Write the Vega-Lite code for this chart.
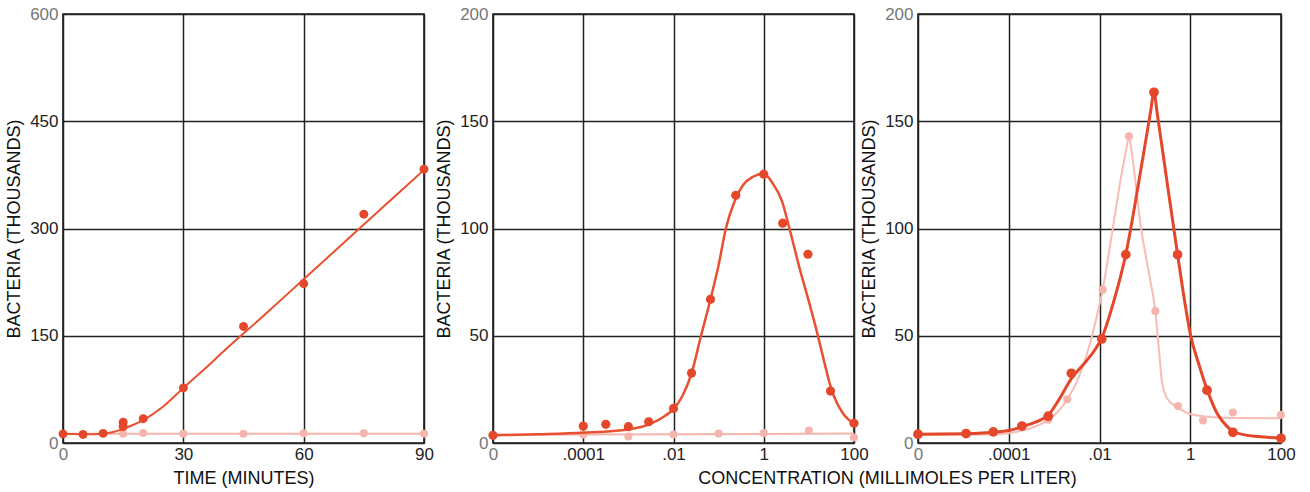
{
  "$schema": "https://vega.github.io/schema/vega-lite/v6.json",
  "padding": {"left": 4, "top": 4, "right": 4, "bottom": 4},
  "background": "white",
  "config": {
    "font": "Liberation Sans",
    "view": {"stroke": "#1e1e1e", "strokeWidth": 1.6},
    "axis": {
      "domain": false, "ticks": false, "grid": true,
      "gridColor": "#222222", "gridWidth": 1.5, "gridOpacity": 1,
      "labelFont": "Liberation Sans", "labelFontSize": 17,
      "labelFlush": false, "labelOverlap": false,
      "titleFont": "Liberation Sans", "titleFontSize": 18, "titleFontWeight": "normal", "titleColor": "#111111"
    }
  },
  "datasets": {
    "time_course": [
      {"minutes": 0, "bacteria": 12.8, "series": "main", "kind": "point"},
      {"minutes": 5, "bacteria": 12, "series": "main", "kind": "point"},
      {"minutes": 10, "bacteria": 13.5, "series": "main", "kind": "point"},
      {"minutes": 15, "bacteria": 29, "series": "main", "kind": "point"},
      {"minutes": 15, "bacteria": 23, "series": "main", "kind": "point"},
      {"minutes": 20, "bacteria": 34, "series": "main", "kind": "point"},
      {"minutes": 30, "bacteria": 77, "series": "main", "kind": "point"},
      {"minutes": 45, "bacteria": 163, "series": "main", "kind": "point"},
      {"minutes": 60, "bacteria": 223, "series": "main", "kind": "point"},
      {"minutes": 75, "bacteria": 320, "series": "main", "kind": "point"},
      {"minutes": 90, "bacteria": 383, "series": "main", "kind": "point"},
      {"minutes": 15, "bacteria": 13, "series": "control", "kind": "point"},
      {"minutes": 20, "bacteria": 14, "series": "control", "kind": "point"},
      {"minutes": 30, "bacteria": 13, "series": "control", "kind": "point"},
      {"minutes": 45, "bacteria": 13, "series": "control", "kind": "point"},
      {"minutes": 60, "bacteria": 13.5, "series": "control", "kind": "point"},
      {"minutes": 75, "bacteria": 13.5, "series": "control", "kind": "point"},
      {"minutes": 90, "bacteria": 13, "series": "control", "kind": "point"},
      {"minutes": 0, "bacteria": 12.8, "series": "main", "kind": "curve"},
      {"minutes": 5, "bacteria": 12.3, "series": "main", "kind": "curve"},
      {"minutes": 10, "bacteria": 13, "series": "main", "kind": "curve"},
      {"minutes": 13, "bacteria": 16, "series": "main", "kind": "curve"},
      {"minutes": 16, "bacteria": 22, "series": "main", "kind": "curve"},
      {"minutes": 20, "bacteria": 32, "series": "main", "kind": "curve"},
      {"minutes": 25, "bacteria": 51, "series": "main", "kind": "curve"},
      {"minutes": 30, "bacteria": 77, "series": "main", "kind": "curve"},
      {"minutes": 35, "bacteria": 102, "series": "main", "kind": "curve"},
      {"minutes": 40, "bacteria": 128, "series": "main", "kind": "curve"},
      {"minutes": 50, "bacteria": 178, "series": "main", "kind": "curve"},
      {"minutes": 60, "bacteria": 229, "series": "main", "kind": "curve"},
      {"minutes": 70, "bacteria": 280, "series": "main", "kind": "curve"},
      {"minutes": 80, "bacteria": 331, "series": "main", "kind": "curve"},
      {"minutes": 90, "bacteria": 382, "series": "main", "kind": "curve"},
      {"minutes": 0, "bacteria": 12.8, "series": "control", "kind": "curve"},
      {"minutes": 90, "bacteria": 12.8, "series": "control", "kind": "curve"}
    ],
    "dose_a": [
      {"log_conc": -6, "bacteria": 3.6, "series": "main", "kind": "point"},
      {"log_conc": -4, "bacteria": 7.9, "series": "main", "kind": "point"},
      {"log_conc": -3.5, "bacteria": 8.7, "series": "main", "kind": "point"},
      {"log_conc": -3, "bacteria": 7.6, "series": "main", "kind": "point"},
      {"log_conc": -2.55, "bacteria": 9.9, "series": "main", "kind": "point"},
      {"log_conc": -2, "bacteria": 16.1, "series": "main", "kind": "point"},
      {"log_conc": -1.6, "bacteria": 32.6, "series": "main", "kind": "point"},
      {"log_conc": -1.18, "bacteria": 67, "series": "main", "kind": "point"},
      {"log_conc": -0.62, "bacteria": 115.5, "series": "main", "kind": "point"},
      {"log_conc": 0, "bacteria": 125.3, "series": "main", "kind": "point"},
      {"log_conc": 0.42, "bacteria": 102.5, "series": "main", "kind": "point"},
      {"log_conc": 0.98, "bacteria": 88, "series": "main", "kind": "point"},
      {"log_conc": 1.48, "bacteria": 24.2, "series": "main", "kind": "point"},
      {"log_conc": 2, "bacteria": 9.2, "series": "main", "kind": "point"},
      {"log_conc": -4, "bacteria": 4, "series": "control", "kind": "point"},
      {"log_conc": -3, "bacteria": 3, "series": "control", "kind": "point"},
      {"log_conc": -2, "bacteria": 4, "series": "control", "kind": "point"},
      {"log_conc": -1, "bacteria": 4.4, "series": "control", "kind": "point"},
      {"log_conc": 0, "bacteria": 4.6, "series": "control", "kind": "point"},
      {"log_conc": 1, "bacteria": 5.8, "series": "control", "kind": "point"},
      {"log_conc": 2, "bacteria": 2.6, "series": "control", "kind": "point"},
      {"log_conc": -6, "bacteria": 3.6, "series": "main", "kind": "curve"},
      {"log_conc": -5, "bacteria": 4.1, "series": "main", "kind": "curve"},
      {"log_conc": -4, "bacteria": 4.8, "series": "main", "kind": "curve"},
      {"log_conc": -3, "bacteria": 6.3, "series": "main", "kind": "curve"},
      {"log_conc": -2.5, "bacteria": 9, "series": "main", "kind": "curve"},
      {"log_conc": -2.2, "bacteria": 12.5, "series": "main", "kind": "curve"},
      {"log_conc": -2, "bacteria": 15.8, "series": "main", "kind": "curve"},
      {"log_conc": -1.8, "bacteria": 22, "series": "main", "kind": "curve"},
      {"log_conc": -1.6, "bacteria": 32.5, "series": "main", "kind": "curve"},
      {"log_conc": -1.39, "bacteria": 50, "series": "main", "kind": "curve"},
      {"log_conc": -1.18, "bacteria": 67, "series": "main", "kind": "curve"},
      {"log_conc": -1, "bacteria": 83, "series": "main", "kind": "curve"},
      {"log_conc": -0.84, "bacteria": 100, "series": "main", "kind": "curve"},
      {"log_conc": -0.63, "bacteria": 113.5, "series": "main", "kind": "curve"},
      {"log_conc": -0.45, "bacteria": 120.5, "series": "main", "kind": "curve"},
      {"log_conc": -0.25, "bacteria": 124, "series": "main", "kind": "curve"},
      {"log_conc": 0, "bacteria": 125.5, "series": "main", "kind": "curve"},
      {"log_conc": 0.2, "bacteria": 121, "series": "main", "kind": "curve"},
      {"log_conc": 0.4, "bacteria": 113, "series": "main", "kind": "curve"},
      {"log_conc": 0.57, "bacteria": 100, "series": "main", "kind": "curve"},
      {"log_conc": 0.8, "bacteria": 81, "series": "main", "kind": "curve"},
      {"log_conc": 1, "bacteria": 66, "series": "main", "kind": "curve"},
      {"log_conc": 1.2, "bacteria": 50, "series": "main", "kind": "curve"},
      {"log_conc": 1.35, "bacteria": 37, "series": "main", "kind": "curve"},
      {"log_conc": 1.5, "bacteria": 25, "series": "main", "kind": "curve"},
      {"log_conc": 1.75, "bacteria": 14, "series": "main", "kind": "curve"},
      {"log_conc": 2, "bacteria": 9, "series": "main", "kind": "curve"},
      {"log_conc": -6, "bacteria": 3.8, "series": "control", "kind": "curve"},
      {"log_conc": 2, "bacteria": 4.4, "series": "control", "kind": "curve"}
    ],
    "dose_b": [
      {"log_conc": -6, "bacteria": 4.1, "series": "main", "kind": "point"},
      {"log_conc": -4.94, "bacteria": 4.4, "series": "main", "kind": "point"},
      {"log_conc": -4.34, "bacteria": 5.2, "series": "main", "kind": "point"},
      {"log_conc": -3.71, "bacteria": 7.9, "series": "main", "kind": "point"},
      {"log_conc": -3.13, "bacteria": 12.5, "series": "main", "kind": "point"},
      {"log_conc": -2.62, "bacteria": 32.5, "series": "main", "kind": "point"},
      {"log_conc": -1.95, "bacteria": 48.5, "series": "main", "kind": "point"},
      {"log_conc": -1.42, "bacteria": 87.8, "series": "main", "kind": "point"},
      {"log_conc": -0.8, "bacteria": 163.5, "series": "main", "kind": "point"},
      {"log_conc": -0.28, "bacteria": 87.8, "series": "main", "kind": "point"},
      {"log_conc": 0.37, "bacteria": 24.6, "series": "main", "kind": "point"},
      {"log_conc": 0.94, "bacteria": 5, "series": "main", "kind": "point"},
      {"log_conc": 2, "bacteria": 2.2, "series": "main", "kind": "point"},
      {"log_conc": -3.13, "bacteria": 10.8, "series": "control", "kind": "point"},
      {"log_conc": -2.71, "bacteria": 20.4, "series": "control", "kind": "point"},
      {"log_conc": -1.93, "bacteria": 71.5, "series": "control", "kind": "point"},
      {"log_conc": -1.35, "bacteria": 143, "series": "control", "kind": "point"},
      {"log_conc": -0.77, "bacteria": 61.5, "series": "control", "kind": "point"},
      {"log_conc": -0.27, "bacteria": 17.2, "series": "control", "kind": "point"},
      {"log_conc": 0.28, "bacteria": 10.5, "series": "control", "kind": "point"},
      {"log_conc": 0.94, "bacteria": 14.2, "series": "control", "kind": "point"},
      {"log_conc": 2, "bacteria": 13.2, "series": "control", "kind": "point"},
      {"log_conc": -6, "bacteria": 4.1, "series": "main", "kind": "curve"},
      {"log_conc": -5, "bacteria": 4.3, "series": "main", "kind": "curve"},
      {"log_conc": -4.5, "bacteria": 4.8, "series": "main", "kind": "curve"},
      {"log_conc": -4, "bacteria": 5.8, "series": "main", "kind": "curve"},
      {"log_conc": -3.71, "bacteria": 7.6, "series": "main", "kind": "curve"},
      {"log_conc": -3.4, "bacteria": 9.8, "series": "main", "kind": "curve"},
      {"log_conc": -3.13, "bacteria": 13, "series": "main", "kind": "curve"},
      {"log_conc": -2.9, "bacteria": 20, "series": "main", "kind": "curve"},
      {"log_conc": -2.62, "bacteria": 30, "series": "main", "kind": "curve"},
      {"log_conc": -2.3, "bacteria": 38, "series": "main", "kind": "curve"},
      {"log_conc": -2.1, "bacteria": 43.5, "series": "main", "kind": "curve"},
      {"log_conc": -1.95, "bacteria": 49, "series": "main", "kind": "curve"},
      {"log_conc": -1.7, "bacteria": 65, "series": "main", "kind": "curve"},
      {"log_conc": -1.42, "bacteria": 88, "series": "main", "kind": "curve"},
      {"log_conc": -1.1, "bacteria": 126, "series": "main", "kind": "curve"},
      {"log_conc": -0.87, "bacteria": 155, "series": "main", "kind": "curve"},
      {"log_conc": -0.8, "bacteria": 163.5, "series": "main", "kind": "curve"},
      {"log_conc": -0.73, "bacteria": 154, "series": "main", "kind": "curve"},
      {"log_conc": -0.5, "bacteria": 120, "series": "main", "kind": "curve"},
      {"log_conc": -0.28, "bacteria": 88, "series": "main", "kind": "curve"},
      {"log_conc": -0.1, "bacteria": 63, "series": "main", "kind": "curve"},
      {"log_conc": 0, "bacteria": 51, "series": "main", "kind": "curve"},
      {"log_conc": 0.2, "bacteria": 36, "series": "main", "kind": "curve"},
      {"log_conc": 0.37, "bacteria": 25, "series": "main", "kind": "curve"},
      {"log_conc": 0.6, "bacteria": 13.5, "series": "main", "kind": "curve"},
      {"log_conc": 0.8, "bacteria": 8, "series": "main", "kind": "curve"},
      {"log_conc": 0.94, "bacteria": 5.5, "series": "main", "kind": "curve"},
      {"log_conc": 1.2, "bacteria": 3.8, "series": "main", "kind": "curve"},
      {"log_conc": 1.5, "bacteria": 3, "series": "main", "kind": "curve"},
      {"log_conc": 2, "bacteria": 2.2, "series": "main", "kind": "curve"},
      {"log_conc": -6, "bacteria": 3.8, "series": "control", "kind": "curve"},
      {"log_conc": -4.5, "bacteria": 4, "series": "control", "kind": "curve"},
      {"log_conc": -4, "bacteria": 4.6, "series": "control", "kind": "curve"},
      {"log_conc": -3.7, "bacteria": 5.8, "series": "control", "kind": "curve"},
      {"log_conc": -3.4, "bacteria": 7.8, "series": "control", "kind": "curve"},
      {"log_conc": -3.13, "bacteria": 10.8, "series": "control", "kind": "curve"},
      {"log_conc": -2.9, "bacteria": 15, "series": "control", "kind": "curve"},
      {"log_conc": -2.71, "bacteria": 20.4, "series": "control", "kind": "curve"},
      {"log_conc": -2.45, "bacteria": 31, "series": "control", "kind": "curve"},
      {"log_conc": -2.2, "bacteria": 47, "series": "control", "kind": "curve"},
      {"log_conc": -2.05, "bacteria": 60, "series": "control", "kind": "curve"},
      {"log_conc": -1.93, "bacteria": 71.5, "series": "control", "kind": "curve"},
      {"log_conc": -1.82, "bacteria": 85, "series": "control", "kind": "curve"},
      {"log_conc": -1.5, "bacteria": 127, "series": "control", "kind": "curve"},
      {"log_conc": -1.4, "bacteria": 138, "series": "control", "kind": "curve"},
      {"log_conc": -1.35, "bacteria": 143, "series": "control", "kind": "curve"},
      {"log_conc": -1.3, "bacteria": 137, "series": "control", "kind": "curve"},
      {"log_conc": -1.09, "bacteria": 101, "series": "control", "kind": "curve"},
      {"log_conc": -0.9, "bacteria": 78, "series": "control", "kind": "curve"},
      {"log_conc": -0.77, "bacteria": 61.5, "series": "control", "kind": "curve"},
      {"log_conc": -0.7, "bacteria": 46, "series": "control", "kind": "curve"},
      {"log_conc": -0.62, "bacteria": 28, "series": "control", "kind": "curve"},
      {"log_conc": -0.5, "bacteria": 20.5, "series": "control", "kind": "curve"},
      {"log_conc": -0.27, "bacteria": 16.5, "series": "control", "kind": "curve"},
      {"log_conc": 0, "bacteria": 13.5, "series": "control", "kind": "curve"},
      {"log_conc": 0.5, "bacteria": 12, "series": "control", "kind": "curve"},
      {"log_conc": 1, "bacteria": 11.6, "series": "control", "kind": "curve"},
      {"log_conc": 2, "bacteria": 11.5, "series": "control", "kind": "curve"}
    ]
  },
  "bounds": "flush",
  "spacing": 69,
  "hconcat": [
    {
      "width": 361, "height": 429,
      "data": {"name": "time_course"},
      "encoding": {
        "x": {"field": "minutes", "type": "quantitative",
          "scale": {"domain": [0, 90], "nice": false},
          "axis": {"values": [0, 30, 60, 90], "title": "TIME (MINUTES)", "labelPadding": 3, "titlePadding": 7,
            "labelColor": {"condition": {"test": "datum.value == 0", "value": "#777777"}, "value": "#222222"}}},
        "y": {"field": "bacteria", "type": "quantitative",
          "scale": {"domain": [0, 600], "nice": false},
          "axis": {"values": [0, 150, 300, 450, 600], "title": "BACTERIA (THOUSANDS)", "labelPadding": 5, "titlePadding": 6,
            "labelColor": {"condition": {"test": "datum.value == 0 || datum.value == 600", "value": "#777777"}, "value": "#222222"}}}
      },
      "layer": [
        {"transform": [{"filter": "datum.series == 'control' && datum.kind == 'curve'"}],
         "mark": {"type": "line", "color": "#f5b5ad", "strokeWidth": 2}},
        {"transform": [{"filter": "datum.series == 'control' && datum.kind == 'point'"}],
         "mark": {"type": "point", "filled": true, "opacity": 1, "color": "#f5b5ad", "size": 65}},
        {"transform": [{"filter": "datum.series == 'main' && datum.kind == 'curve'"}],
         "mark": {"type": "line", "color": "#e8502f", "strokeWidth": 2, "interpolate": "monotone"}},
        {"transform": [{"filter": "datum.series == 'main' && datum.kind == 'point'"}],
         "mark": {"type": "point", "filled": true, "opacity": 1, "color": "#e5472b", "size": 80}}
      ]
    },
    {
      "bounds": "flush",
      "spacing": 64,
      "hconcat": [
        {
          "width": 361, "height": 429,
          "data": {"name": "dose_a"},
          "encoding": {
            "x": {"field": "log_conc", "type": "quantitative",
              "scale": {"domain": [-6, 2], "nice": false},
              "axis": {"values": [-6, -4, -2, 0, 2], "title": "CONCENTRATION (MILLIMOLES PER LITER)",
                "titleX": 394, "titleAlign": "center", "titleAnchor": "start", "labelPadding": 3, "titlePadding": 7,
                "labelExpr": "datum.value == -6 ? '0' : datum.value == -4 ? '.0001' : datum.value == -2 ? '.01' : datum.value == 0 ? '1' : '100'",
                "labelColor": {"condition": {"test": "datum.value == -6", "value": "#777777"}, "value": "#222222"}}},
            "y": {"field": "bacteria", "type": "quantitative",
              "scale": {"domain": [0, 200], "nice": false},
              "axis": {"values": [0, 50, 100, 150, 200], "title": "BACTERIA (THOUSANDS)", "labelPadding": 5, "titlePadding": 6,
                "labelColor": {"condition": {"test": "datum.value == 0 || datum.value == 200", "value": "#777777"}, "value": "#222222"}}}
          },
          "layer": [
            {"transform": [{"filter": "datum.series == 'control' && datum.kind == 'curve'"}],
             "mark": {"type": "line", "color": "#f5b5ad", "strokeWidth": 2}},
            {"transform": [{"filter": "datum.series == 'control' && datum.kind == 'point'"}],
             "mark": {"type": "point", "filled": true, "opacity": 1, "color": "#f5b5ad", "size": 65}},
            {"transform": [{"filter": "datum.series == 'main' && datum.kind == 'curve'"}],
             "mark": {"type": "line", "color": "#e8502f", "strokeWidth": 2.5, "interpolate": "monotone"}},
            {"transform": [{"filter": "datum.series == 'main' && datum.kind == 'point'"}],
             "mark": {"type": "point", "filled": true, "opacity": 1, "color": "#e5472b", "size": 85}}
          ]
        },
        {
          "width": 363, "height": 429,
          "data": {"name": "dose_b"},
          "encoding": {
            "x": {"field": "log_conc", "type": "quantitative",
              "scale": {"domain": [-6, 2], "nice": false},
              "axis": {"values": [-6, -4, -2, 0, 2], "title": null, "labelPadding": 3,
                "labelExpr": "datum.value == -6 ? '0' : datum.value == -4 ? '.0001' : datum.value == -2 ? '.01' : datum.value == 0 ? '1' : '100'",
                "labelColor": {"condition": {"test": "datum.value == -6", "value": "#777777"}, "value": "#222222"}}},
            "y": {"field": "bacteria", "type": "quantitative",
              "scale": {"domain": [0, 200], "nice": false},
              "axis": {"values": [0, 50, 100, 150, 200], "title": "BACTERIA (THOUSANDS)", "labelPadding": 5, "titlePadding": 6,
                "labelColor": {"condition": {"test": "datum.value == 0 || datum.value == 200", "value": "#777777"}, "value": "#222222"}}}
          },
          "layer": [
            {"transform": [{"filter": "datum.series == 'control' && datum.kind == 'curve'"}],
             "mark": {"type": "line", "color": "#f7bcb5", "strokeWidth": 2, "interpolate": "monotone"}},
            {"transform": [{"filter": "datum.series == 'control' && datum.kind == 'point'"}],
             "mark": {"type": "point", "filled": true, "opacity": 1, "color": "#f5b5ad", "size": 65}},
            {"transform": [{"filter": "datum.series == 'main' && datum.kind == 'curve'"}],
             "mark": {"type": "line", "color": "#e5472b", "strokeWidth": 3, "interpolate": "monotone"}},
            {"transform": [{"filter": "datum.series == 'main' && datum.kind == 'point'"}],
             "mark": {"type": "point", "filled": true, "opacity": 1, "color": "#e5472b", "size": 95}}
          ]
        }
      ]
    }
  ]
}
